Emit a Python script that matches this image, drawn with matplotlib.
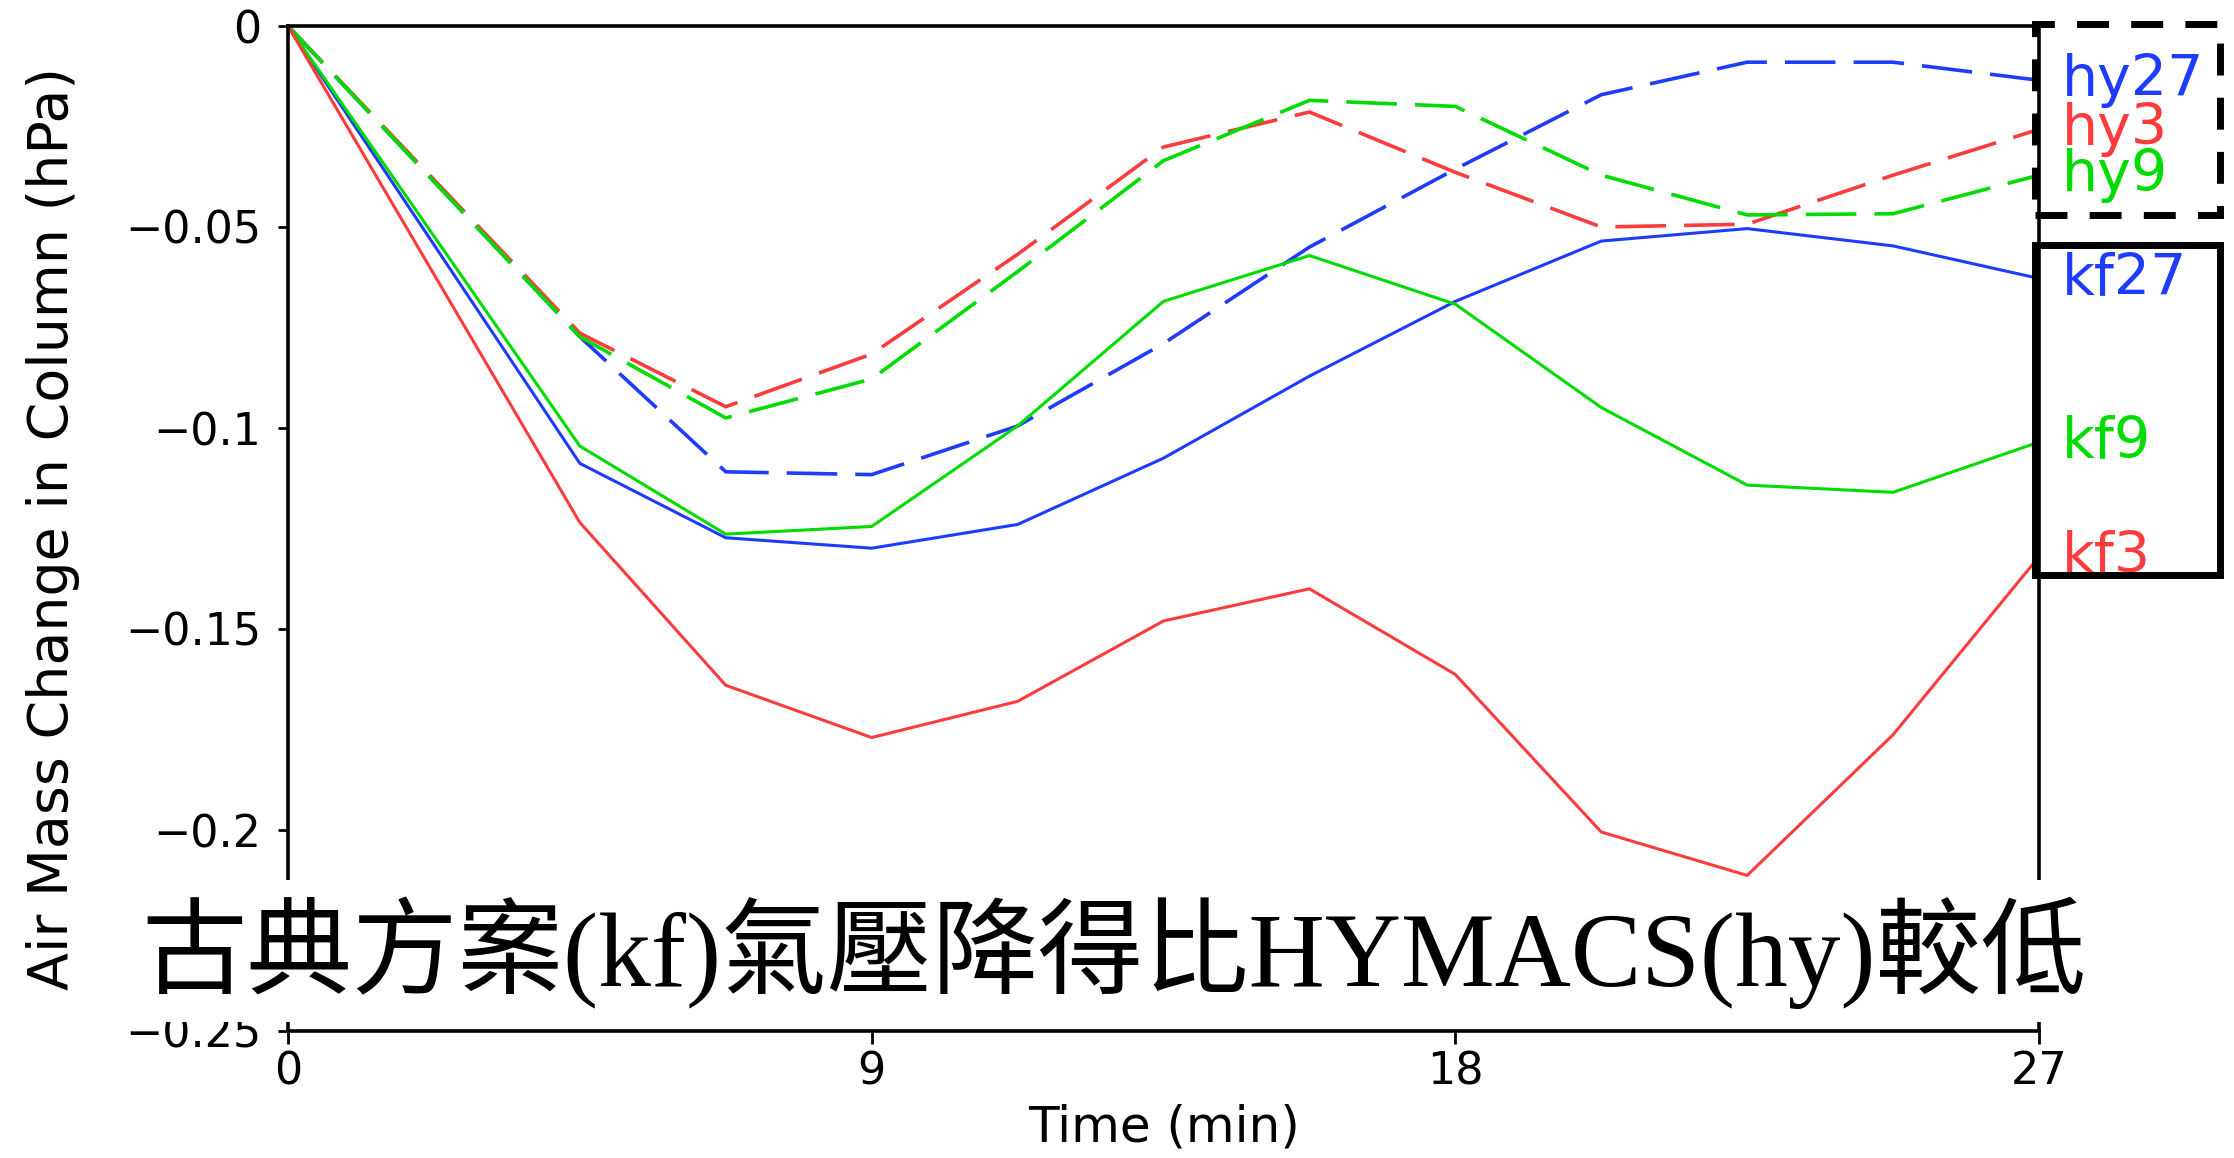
import matplotlib
matplotlib.use('Agg')
import matplotlib.pyplot as plt
from matplotlib.patches import Rectangle

# 時間 (min)
time_min = [0, 4.5, 6.75, 9, 11.25, 13.5, 15.75, 18, 20.25, 22.5, 24.75, 27]

# 氣柱質量變化 (hPa)
hy27 = [0, -0.0773, -0.1109, -0.1116, -0.0995, -0.0790, -0.0550, -0.0356, -0.0171, -0.0090, -0.0090, -0.0135]
hy3 = [0, -0.0764, -0.0947, -0.0816, -0.0568, -0.0301, -0.0214, -0.0364, -0.0500, -0.0493, -0.0371, -0.0257]
hy9 = [0, -0.0773, -0.0975, -0.0878, -0.0611, -0.0335, -0.0185, -0.0200, -0.0371, -0.0470, -0.0467, -0.0371]
kf27 = [0, -0.1088, -0.1273, -0.1299, -0.1240, -0.1075, -0.0871, -0.0685, -0.0535, -0.0504, -0.0547, -0.0628]
kf9 = [0, -0.1045, -0.1264, -0.1245, -0.0995, -0.0685, -0.0571, -0.0692, -0.0949, -0.1142, -0.1160, -0.1035]
kf3 = [0, -0.1235, -0.1640, -0.1770, -0.1680, -0.1480, -0.1400, -0.1613, -0.2005, -0.2113, -0.1763, -0.1320]

x_ticks = [0, 9, 18, 27]
y_ticks = [0, -0.05, -0.1, -0.15, -0.2, -0.25]
y_tick_labels = ['0', '\u22120.05', '\u22120.1', '\u22120.15', '\u22120.2', '\u22120.25']

red = '#FA3C3C'
green = '#00DC00'
blue = '#1E3CFF'

W, H = 2234, 1158
fig = plt.figure(figsize=(W / 100, H / 100), dpi=100, facecolor='w')
ax = fig.add_axes([288 / W, 1 - 1031 / H, (2039 - 288) / W, (1031 - 26) / H])

dash = (0, (14, 5))
for y, c in [(hy27, blue), (hy3, red), (hy9, green)]:
  ax.plot(time_min, y, color=c, lw=2.6, linestyle=dash)
for y, c in [(kf27, blue), (kf9, green), (kf3, red)]:
  ax.plot(time_min, y, color=c, lw=2.2)

ax.set_xlim(0, 27)
ax.set_ylim(-0.25, 0)
ax.set_xticks(x_ticks)
ax.set_yticks(y_ticks)
ax.set_yticklabels(y_tick_labels)
ax.tick_params(axis='y', direction='out', length=7, width=2, pad=12, labelsize=32)
ax.tick_params(axis='x', direction='out', length=9, width=2, pad=5, labelsize=32)
for s in ax.spines.values():
  s.set_linewidth(2.6)

ax.set_xlabel('Time (min)', fontsize=36)
ax.xaxis.set_label_coords(0.5, -0.072)
ax.set_ylabel('Air Mass Change in Column (hPa)', fontsize=40, va='center')
ax.yaxis.set_label_coords(-0.134, 0.5)

# 右側標籤
for name, y, c in [('hy27', hy27, blue), ('hy3', hy3, red), ('hy9', hy9, green),
                   ('kf27', kf27, blue), ('kf9', kf9, green), ('kf3', kf3, red)]:
  ax.text(27.36, y[-1], name, color=c, fontsize=41, ha='left', va='center', clip_on=False)

# 圖例框
fig.add_artist(Rectangle((2035 / W, 1 - 215 / H), 185 / W, 191 / H, transform=fig.transFigure,
                         fill=False, ec='k', lw=5, linestyle=(0, (4.6, 3.2)), clip_on=False))
fig.add_artist(Rectangle((2035 / W, 1 - 575 / H), 185 / W, 330 / H, transform=fig.transFigure,
                         fill=False, ec='k', lw=5, clip_on=False))

# 標題文字 (白底)
fig.add_artist(Rectangle((120 / W, 1 - 1022 / H), 1990 / W, 142 / H, transform=fig.transFigure,
                         fc='w', ec='none', zorder=10))
fig.text(1114 / W, 1 - 953 / H, '古典方案(kf)氣壓降得比HYMACS(hy)較低', ha='center', va='center',
         fontsize=76, family=['Liberation Serif', 'Noto Sans CJK TC'], zorder=11)

plt.savefig('out.png', dpi=100, facecolor='w')
